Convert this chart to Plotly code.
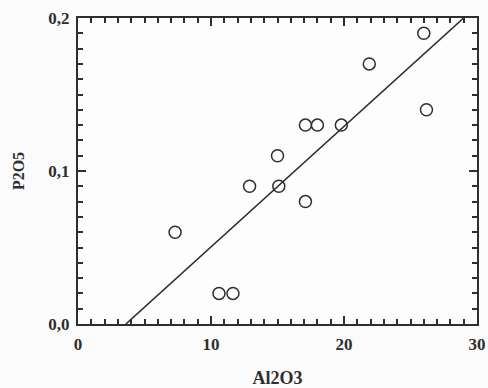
import plotly.graph_objects as go

# Data
al2o3 = [7.3, 10.6, 11.65, 12.9, 15.0, 15.1, 17.1, 17.1, 18.0, 19.8, 21.9, 26.0, 26.2]
p2o5 = [0.06, 0.02, 0.02, 0.09, 0.11, 0.09, 0.08, 0.13, 0.13, 0.13, 0.17, 0.19, 0.14]

# Regression line end points
fit_x = [3.6, 29.0]
fit_y = [0.0, 0.2]

x_ticks = [0, 10, 20, 30]
y_ticks = [0.0, 0.1, 0.2]

ink = "#2e2e2e"
bg = "#fbfbfb"
font_family = "Liberation Serif"

fig = go.Figure()
fig.add_trace(go.Scatter(
    x=fit_x, y=fit_y, mode="lines",
    line=dict(color=ink, width=1.6),
    showlegend=False, hoverinfo="skip",
))
fig.add_trace(go.Scatter(
    x=al2o3, y=p2o5, mode="markers",
    marker=dict(symbol="circle-open", size=12, color=ink, line=dict(width=1.5, color=ink)),
    showlegend=False,
))

axis_common = dict(
    showline=True, linecolor=ink, linewidth=2, mirror="allticks",
    ticks="inside", tickcolor=ink, tickwidth=1.5, ticklen=8,
    showgrid=False, zeroline=False, automargin=False,
    tickfont=dict(family=font_family, size=17, color=ink, weight="bold"),
)

fig.update_xaxes(
    range=[0, 30], tickvals=x_ticks, tickformat="d",
    minor=dict(dtick=1, ticks="inside", ticklen=5, tickcolor=ink, tickwidth=1.5),
    title=dict(text="Al2O3", font=dict(family=font_family, size=18, color=ink, weight="bold"), standoff=22),
    ticklabelstandoff=4,
    **axis_common,
)
fig.update_yaxes(
    range=[0, 0.2], tickvals=y_ticks, tickformat=".1f",
    minor=dict(dtick=0.01, ticks="inside", ticklen=5, tickcolor=ink, tickwidth=1.5),
    title=dict(text="P2O5", font=dict(family=font_family, size=16, color=ink, weight="bold"), standoff=20),
    ticklabelstandoff=3,
    **axis_common,
)

fig.update_layout(
    width=488, height=388,
    margin=dict(l=78, r=11, t=18, b=64),
    paper_bgcolor=bg, plot_bgcolor="#fdfdfd",
    separators=", ",
)

fig.write_html(
    "out.html",
    config={"displayModeBar": False},
    post_script="document.body.style.margin='0';document.body.style.background='%s';" % bg,
)
